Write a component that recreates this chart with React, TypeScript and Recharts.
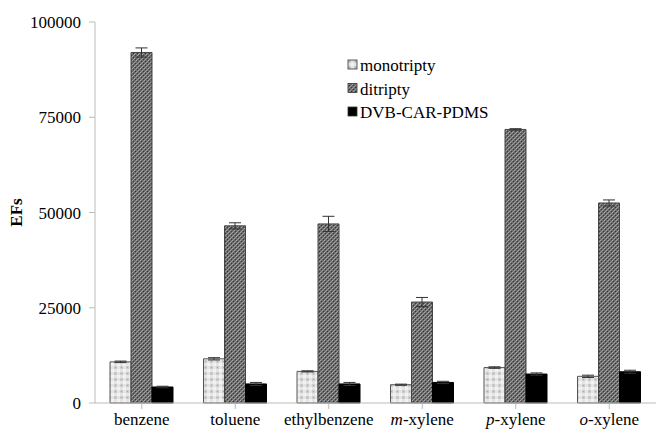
import React from "react";
import { BarChart, Bar, XAxis, YAxis, ErrorBar } from "recharts";

const categories = ["benzene", "toluene", "ethylbenzene", "m-xylene", "p-xylene", "o-xylene"];
const italicPrefix = ["", "", "", "m", "p", "o"];
const monotripty = [10800, 11600, 8300, 4800, 9300, 7000];
const monotriptyErr = [200, 300, 150, 150, 200, 300];
const ditripty = [92000, 46500, 47000, 26500, 71800, 52500];
const ditriptyErr = [1200, 800, 2000, 1200, 200, 800];
const dvb = [4200, 5000, 5000, 5400, 7600, 8200];
const dvbErr = [200, 400, 400, 300, 300, 400];
const yTicks = [0, 25000, 50000, 75000, 100000];

const data = categories.map((c, i) => ({
  name: c,
  mono: monotripty[i],
  monoErr: monotriptyErr[i],
  di: ditripty[i],
  diErr: ditriptyErr[i],
  dvb: dvb[i],
  dvbErr: dvbErr[i],
}));

const FONT = "'Liberation Serif', 'Times New Roman', serif";

const XTick = (props: any) => {
  const { x, y, payload } = props;
  const name: string = payload.value;
  const idx = categories.indexOf(name);
  const pre = italicPrefix[idx];
  return (
    <text x={x} y={y + 14} textAnchor="middle" fontFamily={FONT} fontSize={17} fill="#000">
      {pre ? (
        <>
          <tspan fontStyle="italic">{pre}</tspan>
          <tspan>{name.slice(pre.length)}</tspan>
        </>
      ) : (
        name
      )}
    </text>
  );
};

const legendItems = [
  { label: "monotripty", fill: "url(#patMono)" },
  { label: "ditripty", fill: "url(#patDi)" },
  { label: "DVB-CAR-PDMS", fill: "#000" },
];

export default function App() {
  return (
    <div style={{ position: "absolute", left: 0, top: 0, width: 661, height: 431, background: "#fff" }}>
      <BarChart
        width={661}
        height={431}
        data={data}
        margin={{ top: 22, right: 5, left: 0, bottom: 0 }}
        barCategoryGap={15}
        barGap={0}
      >
        <defs>
          <pattern id="patMono" width="6" height="6" patternUnits="userSpaceOnUse">
            <rect width="6" height="6" fill="#e4e4e4" />
            <rect x="0" y="0" width="3" height="3" fill="#cdcdcd" />
            <rect x="3" y="3" width="3" height="3" fill="#f2f2f2" />
            <rect x="1" y="1" width="1" height="1" fill="#aaa" />
          </pattern>
          <pattern id="patDi" width="4" height="4" patternUnits="userSpaceOnUse">
            <rect width="4" height="4" fill="#6a6a6a" />
            <rect x="0" y="0" width="1" height="1" fill="#a8a8a8" />
            <rect x="2" y="2" width="1" height="1" fill="#a8a8a8" />
            <rect x="1" y="3" width="1" height="1" fill="#9a9a9a" />
            <rect x="3" y="1" width="1" height="1" fill="#9a9a9a" />
            <rect x="1" y="1" width="1" height="1" fill="#3a3a3a" />
            <rect x="3" y="3" width="1" height="1" fill="#3a3a3a" />
          </pattern>
        </defs>
        <XAxis
          dataKey="name"
          height={28}
          tick={<XTick />}
          tickLine={{ stroke: "#bbb" }}
          axisLine={{ stroke: "#bbb" }}
          tickSize={6}
          interval={0}
        />
        <YAxis
          width={95}
          domain={[0, 100000]}
          ticks={yTicks}
          tick={{ fontFamily: FONT, fontSize: 17, fill: "#000" }}
          tickLine={{ stroke: "#bbb" }}
          axisLine={{ stroke: "#bbb" }}
          tickSize={6}
          tickMargin={8}
          label={{
            value: "EFs",
            angle: -90,
            position: "insideLeft",
            offset: 16,
            style: { fontFamily: FONT, fontSize: 17, fontWeight: "bold", fill: "#000", textAnchor: "middle" },
          }}
        />
        <Bar dataKey="mono" fill="url(#patMono)" stroke="#555" strokeWidth={1} isAnimationActive={false}>
          <ErrorBar dataKey="monoErr" width={6} stroke="#333" strokeWidth={1} direction="y" />
        </Bar>
        <Bar dataKey="di" fill="url(#patDi)" stroke="#444" strokeWidth={1} isAnimationActive={false}>
          <ErrorBar dataKey="diErr" width={6} stroke="#333" strokeWidth={1} direction="y" />
        </Bar>
        <Bar dataKey="dvb" fill="#000" stroke="#000" strokeWidth={1} isAnimationActive={false}>
          <ErrorBar dataKey="dvbErr" width={6} stroke="#333" strokeWidth={1} direction="y" />
        </Bar>
        <g>
          {legendItems.map((it, i) => (
            <g key={it.label}>
              <rect x={348} y={60 + i * 23.5} width={9} height={9} fill={it.fill} stroke="#333" strokeWidth={0.8} />
              <text x={360} y={71 + i * 23.5} fontFamily={FONT} fontSize={17} fill="#000">
                {it.label}
              </text>
            </g>
          ))}
        </g>
      </BarChart>
    </div>
  );
}
